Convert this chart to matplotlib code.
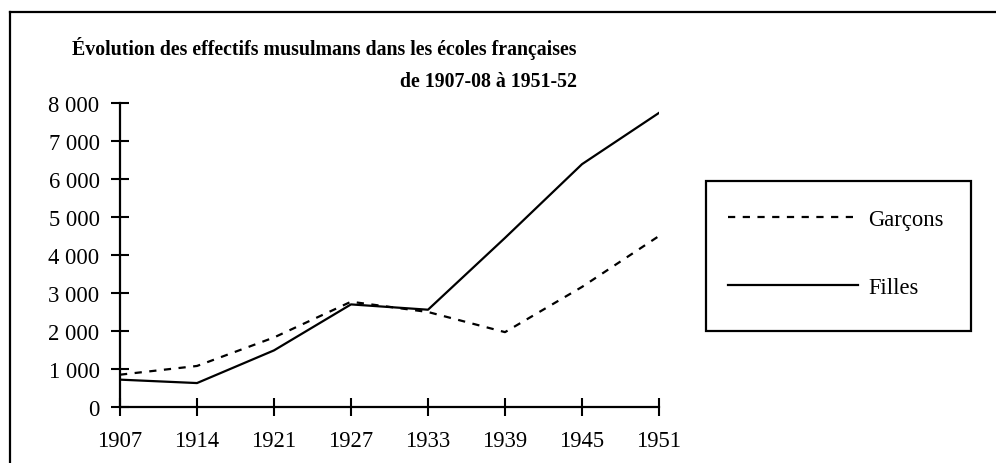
import matplotlib
matplotlib.use("Agg")
import matplotlib.pyplot as plt
from matplotlib.lines import Line2D
from matplotlib.patches import Rectangle
from matplotlib.ticker import FuncFormatter

# Data
annees = ["1907", "1914", "1921", "1927", "1933", "1939", "1945", "1951"]
garcons = [850, 1080, 1830, 2770, 2500, 1970, 3160, 4500]
filles = [720, 630, 1490, 2700, 2560, 4450, 6390, 7740]

titre_1 = "Évolution des effectifs musulmans dans les écoles françaises"
titre_2 = "de 1907-08 à 1951-52"

plt.rcParams["font.family"] = ["Liberation Serif", "DejaVu Serif"]
plt.rcParams["lines.scale_dashes"] = False

W, H = 996, 464
fig = plt.figure(figsize=(W / 100, H / 100), dpi=100)
ax = fig.add_axes([120 / W, 56 / H, 539 / W, 304 / H])

x = list(range(len(annees)))
ax.plot(x, garcons, color="black", lw=1.6, dashes=(5.2, 5.4), label="Garçons")
ax.plot(x, filles, color="black", lw=1.6, label="Filles")

ax.set_xlim(0, len(annees) - 1)
ax.set_ylim(0, 8000)
ax.set_xticks(x)
ax.set_xticklabels(annees)
ax.set_yticks(range(0, 8001, 1000))
ax.yaxis.set_major_formatter(FuncFormatter(lambda v, p: f"{int(v):,}".replace(",", " ")))

for s in ["top", "right"]:
    ax.spines[s].set_visible(False)
for s in ["left", "bottom"]:
    ax.spines[s].set_linewidth(1.6)
ax.tick_params(axis="both", direction="inout", length=12.5, width=1.5,
               labelsize=16.3, colors="black")
ax.tick_params(axis="y", pad=8.5)
ax.tick_params(axis="x", pad=10.5)

# legende : entrees sans cadre + cadre dessine a part
leg = ax.legend(loc="upper left", bbox_to_anchor=(728 / W, 1 - 210 / H),
                bbox_transform=fig.transFigure, fontsize=16.3, frameon=False,
                handlelength=5.75, handletextpad=0.45, labelspacing=2.07,
                borderpad=0, borderaxespad=0)
fig.add_artist(Rectangle((706 / W, 1 - 332 / H), 265 / W, 150 / H,
                         transform=fig.transFigure, fill=False,
                         edgecolor="black", lw=1.6))

fig.text(577 / W, 1 - 55 / H, titre_1, ha="right", va="baseline",
         fontsize=14.3, fontweight="bold")
fig.text(577 / W, 1 - 87 / H, titre_2, ha="right", va="baseline",
         fontsize=14.3, fontweight="bold")

# cadre du graphique (haut et gauche)
fig.add_artist(Line2D([10 / W, 10 / W], [0, 1 - 13 / H], transform=fig.transFigure,
                      color="black", lw=1.6))
fig.add_artist(Line2D([10 / W, 1], [1 - 13 / H, 1 - 13 / H], transform=fig.transFigure,
                      color="black", lw=1.6))

fig.savefig("out.png", dpi=100)
